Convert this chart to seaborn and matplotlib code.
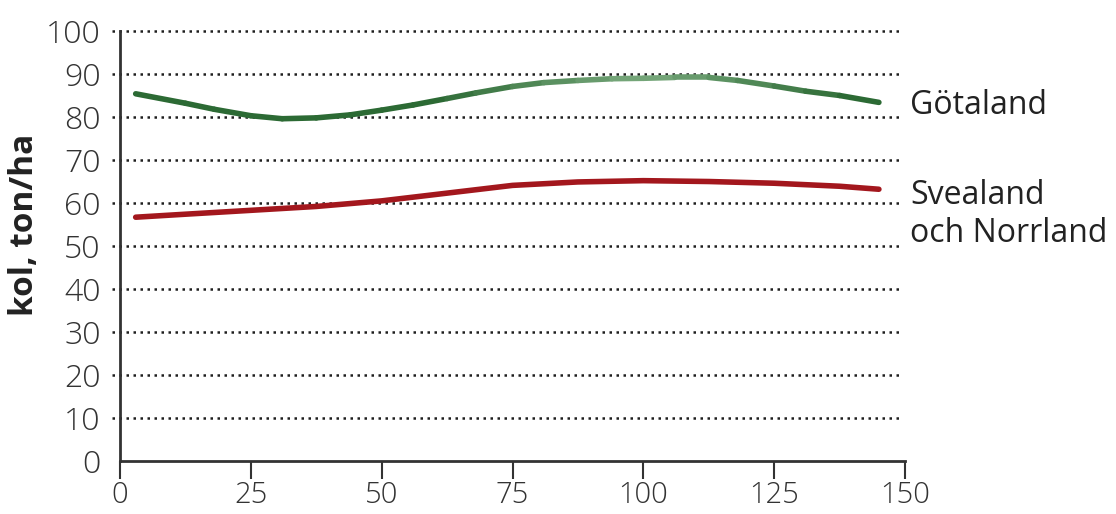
import numpy as np
import pandas as pd
import matplotlib
matplotlib.use("Agg")
import matplotlib.pyplot as plt
from matplotlib.collections import LineCollection
from matplotlib.colors import LinearSegmentedColormap
import seaborn as sns

sns.set_theme(style='white')
plt.rcParams['font.family'] = ['Open Sans', 'DejaVu Sans']

# data
alder = [3, 12.5, 18, 25, 31, 37.5, 44, 50, 56, 62.5, 68, 75, 81, 87.5, 94, 100, 106,
         112.5, 118, 125, 131, 137.5, 145]
gotaland = [85.4, 83.2, 81.8, 80.3, 79.6, 79.8, 80.5, 81.6, 82.8, 84.3, 85.6, 87.1, 88.0,
            88.5, 88.9, 89.0, 89.2, 89.2, 88.5, 87.2, 86.0, 85.0, 83.4]
alder_sv = [3, 12.5, 25, 37.5, 50, 62.5, 75, 87.5, 100, 112.5, 125, 137.5, 145]
svealand = [56.7, 57.4, 58.3, 59.2, 60.5, 62.3, 64.1, 64.9, 65.2, 65.0, 64.6, 63.9, 63.2]
yticks = [0, 10, 20, 30, 40, 50, 60, 70, 80, 90, 100]
xticks = [0, 25, 50, 75, 100, 125, 150]

df = pd.concat([
    pd.DataFrame({'alder': alder, 'kol': gotaland, 'region': 'Götaland'}),
    pd.DataFrame({'alder': alder_sv, 'kol': svealand, 'region': 'Svealand och Norrland'}),
])

fig = plt.figure(figsize=(11.16, 5.14), dpi=100)
ax = fig.add_axes([0.1075, 0.103, 0.7035, 0.8367])

# dotted gridlines, extending a bit left of the axis
ax.hlines(yticks[1:], -1.5, 149, colors='#1e1e1e', linestyles=(0, (1, 1.8)),
          linewidth=1.8, clip_on=False, zorder=1)

sns.lineplot(data=df, x='alder', y='kol', hue='region',
             palette={'Götaland': '#2f6e37', 'Svealand och Norrland': '#a3171d'},
             linewidth=4, legend=False, ax=ax, zorder=3)

# green line fades lighter towards the middle-right like the original
green_line = ax.lines[0]
xy = green_line.get_xydata()
segs = np.stack([xy[:-1], xy[1:]], axis=1)
mid = (xy[:-1, 0] + xy[1:, 0]) / 2
fade = np.clip(1 - np.abs(mid - 100) / 40, 0, 1)
cmap = LinearSegmentedColormap.from_list('gr', ['#2c6a34', '#7aaa7e'])
lc = LineCollection(segs, colors=cmap(fade), linewidth=4, capstyle='round', zorder=4)
ax.add_collection(lc)
green_line.set_visible(False)

ax.set_xlim(0, 150)
ax.set_ylim(0, 100)
ax.set_xticks(xticks)
ax.set_yticks(yticks)
ax.set_xticklabels([str(t) for t in xticks])
ax.set_yticklabels([str(t) for t in yticks])
ax.tick_params(axis='y', length=0, pad=14, labelsize=23, labelcolor='#333333')
ax.tick_params(axis='x', length=13, width=1.5, color='#333333', direction='out',
               pad=1, labelsize=21, labelcolor='#333333', bottom=True)
for lbl in ax.get_xticklabels() + ax.get_yticklabels():
    lbl.set_fontweight('light')

for side in ['top', 'right']:
    ax.spines[side].set_visible(False)
for side in ['left', 'bottom']:
    ax.spines[side].set_color('#333333')
    ax.spines[side].set_linewidth(2)

ax.set_xlabel('')
ax.set_ylabel('kol, ton/ha', fontsize=24, fontweight='bold', color='#222222')
ax.yaxis.set_label_coords(-0.100, 0.549)

ax.text(151, 82.6, 'Götaland', fontsize=23, color='#222222', va='center', ha='left', clip_on=False)
ax.text(151, 57.4, 'Svealand\noch Norrland', fontsize=23, color='#222222', va='center', ha='left',
        linespacing=1.2, clip_on=False)

fig.savefig('out.png', dpi=100)
